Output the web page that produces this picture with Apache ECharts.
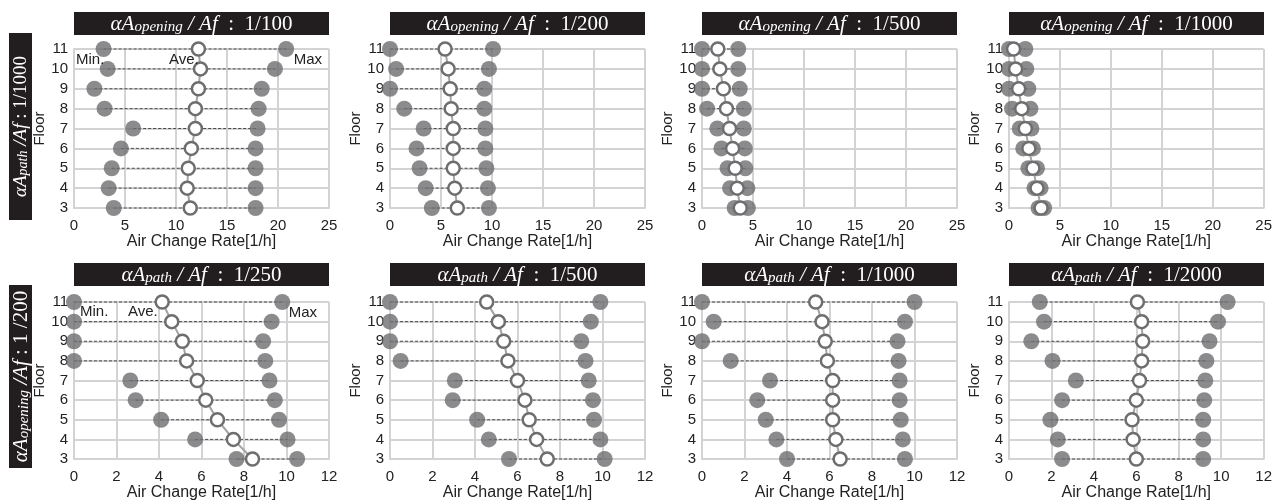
<!DOCTYPE html>
<html>
<head>
<meta charset="utf-8">
<script src="https://cdn.jsdelivr.net/npm/echarts@6/dist/echarts.min.js"></script>
<style>
  html, body { margin: 0; padding: 0; background: #fff; }
  #chart { width: 1275px; height: 502px; }
</style>
</head>
<body>
<div id="chart"></div>
<script>
// Floors, top to bottom
const floors = [11, 10, 9, 8, 7, 6, 5, 4, 3];

// Upper row: αA_path/Af = 1/1000, opening ratio varies
const openingLabels = ['1/100', '1/200', '1/500', '1/1000'];
const min_o100  = [2.9, 3.3, 2.0, 3.0, 5.8, 4.6, 3.7, 3.4, 3.9];
const ave_o100  = [12.2, 12.4, 12.2, 11.9, 11.9, 11.5, 11.2, 11.1, 11.4];
const max_o100  = [20.8, 19.7, 18.4, 18.1, 18.0, 17.8, 17.8, 17.8, 17.8];
const min_o200  = [0.0, 0.6, 0.0, 1.4, 3.3, 2.6, 2.9, 3.5, 4.1];
const ave_o200  = [5.4, 5.7, 5.9, 6.0, 6.2, 6.2, 6.2, 6.35, 6.6];
const max_o200  = [10.1, 9.7, 9.25, 9.25, 9.35, 9.35, 9.45, 9.6, 9.7];
const min_o500  = [0.0, 0.0, 0.0, 0.5, 1.5, 1.9, 2.5, 2.75, 3.2];
const ave_o500  = [1.55, 1.75, 2.1, 2.4, 2.7, 3.0, 3.25, 3.45, 3.75];
const max_o500  = [3.55, 3.55, 3.7, 4.1, 4.1, 4.2, 4.25, 4.45, 4.5];
const min_o1000 = [0.0, 0.0, 0.0, 0.3, 1.05, 1.4, 1.9, 2.5, 2.9];
const ave_o1000 = [0.45, 0.65, 0.95, 1.25, 1.6, 1.95, 2.35, 2.75, 3.15];
const max_o1000 = [1.6, 1.7, 1.9, 2.1, 2.2, 2.35, 2.75, 3.1, 3.45];

// Lower row: αA_opening/Af = 1/200, path ratio varies
const pathLabels = ['1/250', '1/500', '1/1000', '1/2000'];
const min_p250  = [0.0, 0.0, 0.0, 0.0, 2.65, 2.9, 4.1, 5.7, 7.65];
const ave_p250  = [4.15, 4.6, 5.1, 5.3, 5.8, 6.2, 6.75, 7.5, 8.4];
const max_p250  = [9.8, 9.3, 8.9, 9.0, 9.2, 9.45, 9.65, 10.05, 10.5];
const min_p500  = [0.0, 0.0, 0.0, 0.5, 3.05, 2.95, 4.1, 4.65, 5.6];
const ave_p500  = [4.55, 5.1, 5.35, 5.55, 6.0, 6.35, 6.55, 6.9, 7.4];
const max_p500  = [9.9, 9.45, 9.0, 9.2, 9.35, 9.55, 9.6, 9.9, 10.1];
const min_p1000 = [0.0, 0.55, 0.0, 1.35, 3.2, 2.6, 3.0, 3.5, 4.0];
const ave_p1000 = [5.35, 5.65, 5.8, 5.9, 6.15, 6.15, 6.15, 6.3, 6.5];
const max_p1000 = [10.0, 9.55, 9.2, 9.25, 9.3, 9.3, 9.35, 9.45, 9.55];
const min_p2000 = [1.45, 1.65, 1.05, 2.05, 3.15, 2.5, 1.95, 2.3, 2.5];
const ave_p2000 = [6.05, 6.25, 6.3, 6.25, 6.15, 6.0, 5.8, 5.85, 6.0];
const max_p2000 = [10.3, 9.85, 9.45, 9.3, 9.25, 9.2, 9.15, 9.15, 9.15];

const xTicksTop = { min: 0, max: 25, interval: 5 };
const xTicksBottom = { min: 0, max: 12, interval: 2 };

const panels = [
  { row: 0, col: 0, head: 'opening', ratio: openingLabels[0], min: min_o100,  ave: ave_o100,  max: max_o100 },
  { row: 0, col: 1, head: 'opening', ratio: openingLabels[1], min: min_o200,  ave: ave_o200,  max: max_o200 },
  { row: 0, col: 2, head: 'opening', ratio: openingLabels[2], min: min_o500,  ave: ave_o500,  max: max_o500 },
  { row: 0, col: 3, head: 'opening', ratio: openingLabels[3], min: min_o1000, ave: ave_o1000, max: max_o1000 },
  { row: 1, col: 0, head: 'path', ratio: pathLabels[0], min: min_p250,  ave: ave_p250,  max: max_p250 },
  { row: 1, col: 1, head: 'path', ratio: pathLabels[1], min: min_p500,  ave: ave_p500,  max: max_p500 },
  { row: 1, col: 2, head: 'path', ratio: pathLabels[2], min: min_p1000, ave: ave_p1000, max: max_p1000 },
  { row: 1, col: 3, head: 'path', ratio: pathLabels[3], min: min_p2000, ave: ave_p2000, max: max_p2000 }
];

// Layout
const colLefts = [74, 390, 702, 1009];
const plotW = 255;
const rowTops = [49, 302];
const rowHeights = [159, 158];
const titleTops = [12, 263];
const titleH = 23;

const SANS = '"Liberation Sans", Arial, sans-serif';
const SERIF_NAME = 'Liberation Serif';
const SERIF = '"Liberation Serif", "Times New Roman", serif';
const GRID_C = '#d3d3d3';
const DOT_C = '#6e6e70';

// Measure text so the formula labels can be centred exactly
const measureCtx = document.createElement('canvas').getContext('2d');
function textWidth(str, size, italic) {
  measureCtx.font = (italic ? 'italic ' : '') + size + 'px "' + SERIF_NAME + '"';
  return measureCtx.measureText(str).width;
}

// Formula label: αA_{sub} + tail (italic) + ratio part (upright)
function formula(sub, tail, ratioPart, big, small) {
  const rich = {
    a: { fontFamily: SERIF, fontStyle: 'italic', fontSize: big, fill: '#fff', lineHeight: big, verticalAlign: 'middle' },
    s: { fontFamily: SERIF, fontStyle: 'italic', fontSize: small, fill: '#fff', lineHeight: Math.round(small * 0.8), verticalAlign: 'bottom' },
    n: { fontFamily: SERIF, fontSize: big, fill: '#fff', lineHeight: big, verticalAlign: 'middle' }
  };
  const text = '{a|αA}{s|' + sub + '}{a|' + tail + '}{n|' + ratioPart + '}';
  const w = textWidth('αA', big, true) + textWidth(sub, small, true) +
            textWidth(tail, big, true) + textWidth(ratioPart, big, false);
  return { text: text, rich: rich, width: w };
}

const grids = [], xAxes = [], yAxes = [], series = [], graphics = [];

panels.forEach((p, i) => {
  const left = colLefts[p.col];
  const top = rowTops[p.row];
  const h = rowHeights[p.row];
  const xt = p.row === 0 ? xTicksTop : xTicksBottom;

  grids.push({ left: left, top: top, width: plotW, height: h, containLabel: false });
  xAxes.push({
    gridIndex: i, type: 'value', min: xt.min, max: xt.max, interval: xt.interval,
    name: 'Air Change Rate[1/h]', nameLocation: 'middle', nameGap: 26,
    nameTextStyle: { fontFamily: SANS, fontSize: 16, color: '#222' },
    axisLine: { show: true, lineStyle: { color: GRID_C, width: 2 } },
    axisTick: { show: false },
    axisLabel: { fontFamily: SANS, fontSize: 15, color: '#222', margin: 10 },
    splitLine: { show: true, lineStyle: { color: GRID_C, width: 2 } }
  });
  yAxes.push({
    gridIndex: i, type: 'value', min: 3, max: 11, interval: 1,
    name: 'Floor', nameLocation: 'middle', nameGap: 25,
    nameTextStyle: { fontFamily: SANS, fontSize: 15, color: '#222' },
    axisLine: { show: true, lineStyle: { color: GRID_C, width: 2 } },
    axisTick: { show: false },
    axisLabel: { fontFamily: SANS, fontSize: 15, color: '#222', margin: 6 },
    splitLine: { show: true, lineStyle: { color: GRID_C, width: 2 } }
  });

  // dashed range from min to max on each floor
  series.push({
    type: 'custom', xAxisIndex: i, yAxisIndex: i, z: 2, silent: true,
    data: floors.map((f, k) => [p.min[k], p.max[k], f]),
    encode: { x: [0, 1], y: 2 },
    renderItem: (params, api) => {
      const a = api.coord([api.value(0), api.value(2)]);
      const b = api.coord([api.value(1), api.value(2)]);
      return {
        type: 'line',
        shape: { x1: a[0], y1: a[1], x2: b[0], y2: b[1] },
        style: { stroke: '#4a4a4a', lineWidth: 1, lineDash: [3, 2] }
      };
    }
  });
  series.push({
    name: 'Min.', type: 'scatter', xAxisIndex: i, yAxisIndex: i, z: 3, clip: false,
    symbol: 'circle', symbolSize: 16, itemStyle: { color: DOT_C },
    data: floors.map((f, k) => [p.min[k], f])
  });
  series.push({
    name: 'Max', type: 'scatter', xAxisIndex: i, yAxisIndex: i, z: 3, clip: false,
    symbol: 'circle', symbolSize: 16, itemStyle: { color: DOT_C },
    data: floors.map((f, k) => [p.max[k], f])
  });
  series.push({
    name: 'Ave.', type: 'line', xAxisIndex: i, yAxisIndex: i, z: 4, clip: false,
    symbol: 'circle', symbolSize: 13, showAllSymbol: true,
    lineStyle: { color: '#a3a3a3', width: 2 },
    itemStyle: { color: '#fff', borderColor: DOT_C, borderWidth: 2.5 },
    data: floors.map((f, k) => [p.ave[k], f])
  });

  // header box above each plot
  const ty = titleTops[p.row];
  graphics.push({
    type: 'rect', left: left, top: ty, z: 10,
    shape: { width: plotW, height: titleH },
    style: { fill: '#221e1f' }
  });
  const f = formula(p.head, ' / Af', '  :  ' + p.ratio, 21, 15);
  graphics.push({
    type: 'text', x: left + plotW / 2 - f.width / 2, y: ty + titleH / 2 + 1, z: 11,
    style: { text: f.text, rich: f.rich, align: 'left', verticalAlign: 'middle', fill: '#fff' }
  });
});

// Row labels on the left, reading upward
const rowLabels = [
  { sub: 'path', tail: ' /Af', ratio: ' : 1/1000', big: 19, small: 14, y0: 33, y1: 220 },
  { sub: 'opening', tail: ' /Af', ratio: ' : 1 /200', big: 21, small: 15, y0: 285, y1: 468 }
];
rowLabels.forEach(r => {
  graphics.push({
    type: 'rect', left: 9, top: r.y0, z: 10,
    shape: { width: 23, height: r.y1 - r.y0 },
    style: { fill: '#221e1f' }
  });
  const f = formula(r.sub, r.tail, r.ratio, r.big, r.small);
  graphics.push({
    type: 'text', x: 21, y: (r.y0 + r.y1) / 2 + f.width / 2, rotation: Math.PI / 2, z: 11,
    style: { text: f.text, rich: f.rich, align: 'left', verticalAlign: 'middle', fill: '#fff' }
  });
});

// Series annotations in the first column
const notes = [
  { t: 'Min.', x: 76, y: 60, align: 'left' },
  { t: 'Ave.', x: 169, y: 60, align: 'left' },
  { t: 'Max', x: 322, y: 60, align: 'right' },
  { t: 'Min.', x: 80, y: 312, align: 'left' },
  { t: 'Ave.', x: 128, y: 312, align: 'left' },
  { t: 'Max', x: 317, y: 313, align: 'right' }
];
notes.forEach(n => {
  graphics.push({
    type: 'text', x: n.x, y: n.y, z: 12,
    style: { text: n.t, fontFamily: SANS, fontSize: 15, fill: '#222', align: n.align, verticalAlign: 'middle' }
  });
});

const chart = echarts.init(document.getElementById('chart'), null, { renderer: 'canvas' });
chart.setOption({
  animation: false,
  backgroundColor: '#fff',
  grid: grids,
  xAxis: xAxes,
  yAxis: yAxes,
  series: series,
  graphic: graphics
});
</script>
</body>
</html>
